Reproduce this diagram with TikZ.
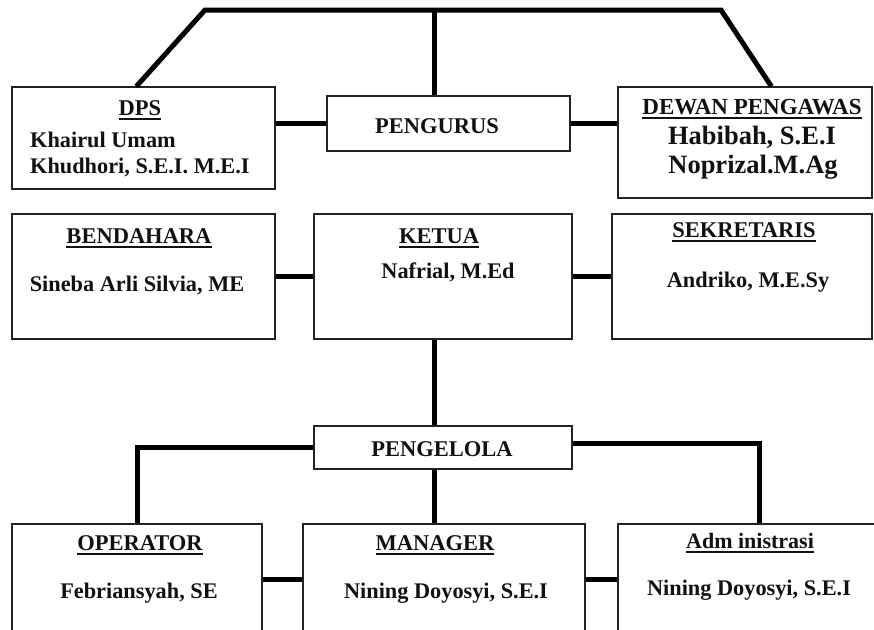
\documentclass[tikz,border=0pt]{standalone}
\usepackage{fontspec}
\setmainfont{Liberation Serif}
\usetikzlibrary{calc}
\definecolor{ink}{HTML}{111111}
\definecolor{boxline}{HTML}{222222}
\newcommand{\titleline}[1]{\setbox0\hbox{#1}\rlap{\raisebox{-4.5pt}{\rule{\wd0}{2pt}}}\box0}
\tikzset{
  unitbox/.style={draw=boxline,fill=white,line width=1.3pt,inner sep=0pt},
  heading/.style={font=\fontsize{22.5}{26}\selectfont\bfseries,text=ink,inner sep=0pt},
  person/.style={font=\fontsize{22.3}{26}\selectfont\bfseries,text=ink,inner sep=0pt},
  link/.style={draw=black,line width=5pt}
}
\begin{document}
\begin{tikzpicture}[x=1pt,y=-1pt]
  \useasboundingbox[fill=white] (0,0) rectangle (874,629);
  \clip (0,0) rectangle (874,629);

  % top level
  \node[unitbox,minimum width=263pt,minimum height=102pt] (dps) at (143.5,138) {};
  \node[unitbox,minimum width=243pt,minimum height=55pt] (pengurus) at (448.5,123.5) {};
  \node[unitbox,minimum width=254pt,minimum height=111pt] (pengawas) at (745,142.5) {};

  % second level
  \node[unitbox,minimum width=263pt,minimum height=125pt] (bendahara) at (143.5,276.5) {};
  \node[unitbox,minimum width=258pt,minimum height=125pt] (ketua) at (443,276.5) {};
  \node[unitbox,minimum width=260pt,minimum height=125pt] (sekretaris) at (742,276.5) {};

  % managers
  \node[unitbox,minimum width=258pt,minimum height=43pt] (pengelola) at (443,447.5) {};
  \node[unitbox,minimum width=250pt,minimum height=110pt] (operator) at (137,579) {};
  \node[unitbox,minimum width=282pt,minimum height=110pt] (manager) at (444,579) {};
  \node[unitbox,minimum width=282pt,minimum height=110pt] (adm) at (759,579) {};

  % texts
  \node[heading] (dpsT) at (140,110) {\titleline{DPS}};
  \node[person,anchor=west] (dpsA) at (30,140) {Khairul Umam};
  \node[person,anchor=west] (dpsB) at (30,167) {Khudhori, S.E.I. M.E.I};
  \node[heading] (pengurusT) at (437,126) {PENGURUS};
  \node[heading,font=\fontsize{23}{26}\selectfont\bfseries] (pengawasT) at (752,109) {\titleline{DEWAN PENGAWAS}};
  \node[person,font=\fontsize{26.5}{30}\selectfont\bfseries] (pengawasA) at (752,137) {Habibah, S.E.I};
  \node[person,font=\fontsize{26.5}{30}\selectfont\bfseries] (pengawasB) at (753,167) {Noprizal.M.Ag};

  \node[heading] (bendaharaT) at (139,238) {\titleline{BENDAHARA}};
  \node[person] (bendaharaA) at (137,285) {Sineba Arli Silvia, ME};
  \node[heading] (ketuaT) at (439,238) {\titleline{KETUA}};
  \node[person] (ketuaA) at (448,272) {Nafrial, M.Ed};
  \node[heading] (sekretarisT) at (744,232) {\titleline{SEKRETARIS}};
  \node[person] (sekretarisA) at (748,282) {Andriko, M.E.Sy};

  \node[heading] (pengelolaT) at (442,449) {PENGELOLA};
  \node[heading] (operatorT) at (140,545) {\titleline{OPERATOR}};
  \node[person] (operatorA) at (139,593) {Febriansyah, SE};
  \node[heading] (managerT) at (435,545) {\titleline{MANAGER}};
  \node[person] (managerA) at (446,593) {Nining Doyosyi, S.E.I};
  \node[heading,font=\fontsize{22}{26}\selectfont\bfseries] (admT) at (750,543) {\titleline{Adm inistrasi}};
  \node[person] (admA) at (749,590) {Nining Doyosyi, S.E.I};

  % connectors
  \coordinate (topL) at (205,10);
  \coordinate (topR) at (721,10);
  \coordinate (spine) at (434,10);
  \path[link] ($(dps.north west)+(125,0)$) -- (topL) -- (topR)
    -- ($(pengawas.north west)+(154,0)$);
  \path[link] (spine) -- (spine |- pengurus.north);
  \path[link] (pengurus.west) -- (pengurus.west -| dps.east);
  \path[link] (pengurus.east) -- (pengurus.east -| pengawas.west);
  \path[link] (bendahara.east) -- (ketua.west);
  \path[link] (ketua.east) -- (sekretaris.west);
  \path[link] (spine |- ketua.south) -- (spine |- pengelola.north);
  \path[link] (pengelola.west) -| (operator.north);
  \path[link] ($(pengelola.east)+(0,-4)$) -| (adm.north);
  \path[link] (spine |- pengelola.south) -- (spine |- manager.north);
  \path[link] (operator.east) -- (manager.west);
  \path[link] (manager.east) -- (adm.west);
\end{tikzpicture}
\end{document}
